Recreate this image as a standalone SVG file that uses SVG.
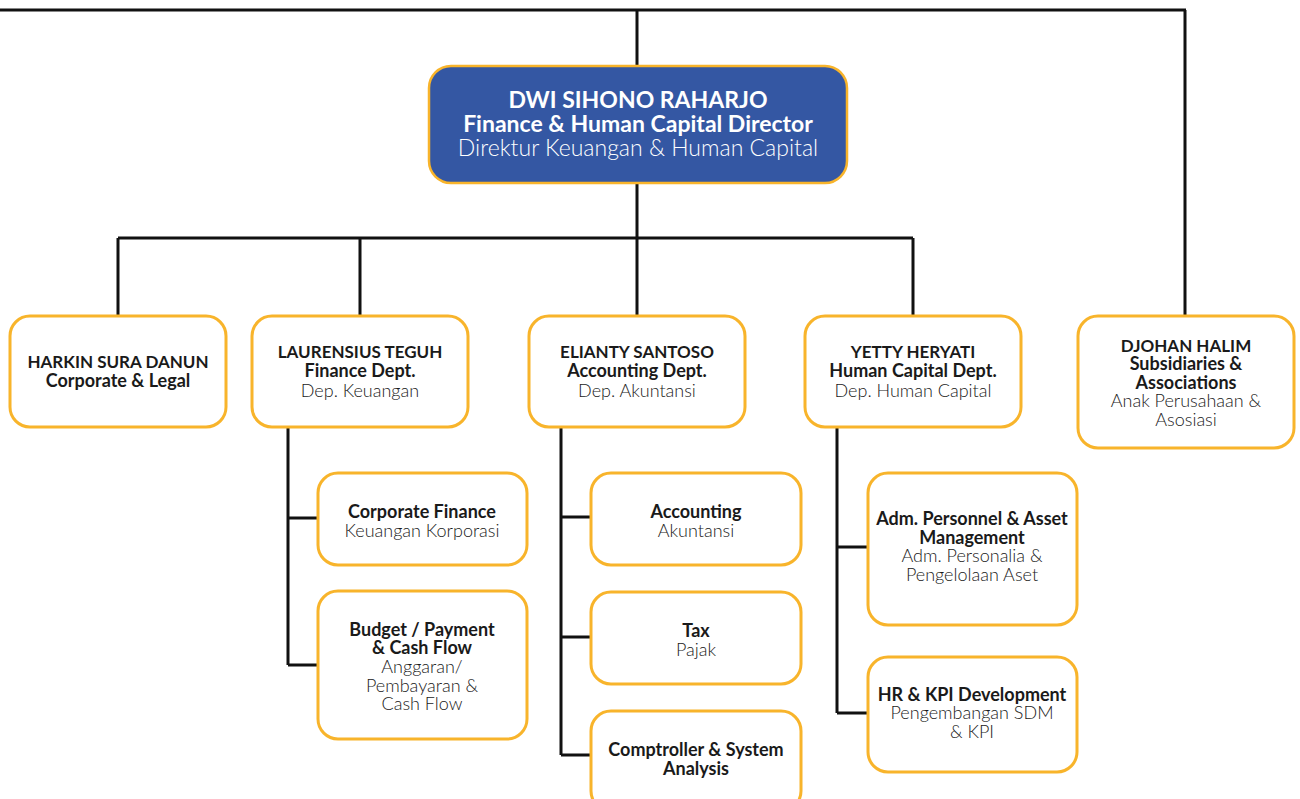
<svg xmlns="http://www.w3.org/2000/svg" width="1300" height="799" viewBox="0 0 1300 799">
<style>
.box{fill:#fff;stroke:#F8B42B;stroke-width:3}
.main{fill:#3457A3;stroke:#F8B42B;stroke-width:2.5}
.ln{fill:none;stroke:#111;stroke-width:3}
text{font-family:Lato,"Open Sans","Liberation Sans",sans-serif;text-anchor:middle;fill:#1a1a1a;font-size:18px;font-weight:300}
.b{font-weight:bold}
.c{font-size:17px}
.w{fill:#fff}
.mt{font-size:23px}
</style>
<g id="connectors">
<path class="ln" d="M0 10 H1186 M637 10 V66 M1185 10 V316"/>
<path class="ln" d="M637 183 V238 M118 238 H913 M118 238 V316 M360 238 V316 M637 238 V316 M913 238 V316"/>
<path class="ln" d="M288 427 V665 M288 518 H318 M288 665 H318"/>
<path class="ln" d="M561 427 V755 M561 517 H591 M561 637 H591 M561 755 H591"/>
<path class="ln" d="M837 427 V713 M837 547 H868 M837 713 H868"/>
</g>
<g id="director">
<rect class="main" x="429" y="66" width="418" height="117" rx="22"/>
<text class="b w mt" x="638" y="108">DWI SIHONO RAHARJO</text>
<text class="b w mt" x="638" y="132">Finance &amp; Human Capital Director</text>
<text class="w mt" x="638" y="156">Direktur Keuangan &amp; Human Capital</text>
</g>
<g id="harkin">
<rect class="box" x="10" y="316" width="216" height="111" rx="20"/>
<text class="b c" x="118" y="368">HARKIN SURA DANUN</text>
<text class="b" x="118" y="387">Corporate &amp; Legal</text>
</g>
<g id="laurensius">
<rect class="box" x="252" y="316" width="216" height="111" rx="20"/>
<text class="b c" x="360" y="358">LAURENSIUS TEGUH</text>
<text class="b" x="360" y="377">Finance Dept.</text>
<text x="360" y="397">Dep. Keuangan</text>
</g>
<g id="elianty">
<rect class="box" x="529" y="316" width="216" height="111" rx="20"/>
<text class="b c" x="637" y="358">ELIANTY SANTOSO</text>
<text class="b" x="637" y="377">Accounting Dept.</text>
<text x="637" y="397">Dep. Akuntansi</text>
</g>
<g id="yetty">
<rect class="box" x="805" y="316" width="216" height="111" rx="20"/>
<text class="b c" x="913" y="358">YETTY HERYATI</text>
<text class="b" x="913" y="377">Human Capital Dept.</text>
<text x="913" y="397">Dep. Human Capital</text>
</g>
<g id="djohan">
<rect class="box" x="1078" y="316" width="216" height="132" rx="20"/>
<text class="b c" x="1186" y="352">DJOHAN HALIM</text>
<text class="b" x="1186" y="370">Subsidiaries &amp;</text>
<text class="b" x="1186" y="389">Associations</text>
<text x="1186" y="407">Anak Perusahaan &amp;</text>
<text x="1186" y="426">Asosiasi</text>
</g>
<g id="corpfin">
<rect class="box" x="318" y="473" width="209" height="92" rx="20"/>
<text class="b" x="422" y="518">Corporate Finance</text>
<text x="422" y="537">Keuangan Korporasi</text>
</g>
<g id="budget">
<rect class="box" x="318" y="591" width="209" height="148" rx="20"/>
<text class="b" x="422" y="636">Budget / Payment</text>
<text class="b" x="422" y="654">&amp; Cash Flow</text>
<text x="422" y="673">Anggaran/</text>
<text x="422" y="692">Pembayaran &amp;</text>
<text x="422" y="710">Cash Flow</text>
</g>
<g id="accounting">
<rect class="box" x="591" y="473" width="210" height="92" rx="20"/>
<text class="b" x="696" y="518">Accounting</text>
<text x="696" y="537">Akuntansi</text>
</g>
<g id="tax">
<rect class="box" x="591" y="592" width="210" height="92" rx="20"/>
<text class="b" x="696" y="637">Tax</text>
<text x="696" y="656">Pajak</text>
</g>
<g id="comptroller">
<rect class="box" x="591" y="711" width="210" height="100" rx="20"/>
<text class="b" x="696" y="756">Comptroller &amp; System</text>
<text class="b" x="696" y="775">Analysis</text>
</g>
<g id="adm">
<rect class="box" x="868" y="473" width="209" height="152" rx="20"/>
<text class="b" x="972" y="525">Adm. Personnel &amp; Asset</text>
<text class="b" x="972" y="544">Management</text>
<text x="972" y="562">Adm. Personalia &amp;</text>
<text x="972" y="581">Pengelolaan Aset</text>
</g>
<g id="hr">
<rect class="box" x="868" y="657" width="209" height="115" rx="20"/>
<text class="b" x="972" y="701">HR &amp; KPI Development</text>
<text x="972" y="719">Pengembangan SDM</text>
<text x="972" y="738">&amp; KPI</text>
</g>
</svg>
